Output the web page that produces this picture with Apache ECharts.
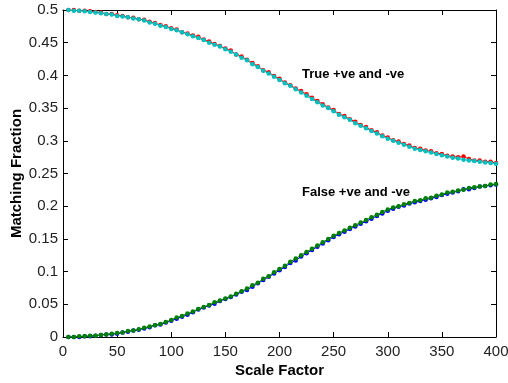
<!DOCTYPE html>
<html><head><meta charset="utf-8">
<script src="https://cdn.jsdelivr.net/npm/echarts@6/dist/echarts.min.js"></script>
<style>html,body{margin:0;padding:0;background:#fff}#c{width:508px;height:383px}</style>
</head><body><div id="c"></div>
<script>
const xValues = [];
for (let i = 1; i <= 80; i++) xValues.push(i * 5);
const trueRed = [0.500,0.500,0.499,0.499,0.498,0.497,0.496,0.494,0.494,0.492,
0.491,0.489,0.488,0.486,0.485,0.482,0.480,0.477,0.475,0.472,
0.470,0.466,0.464,0.461,0.459,0.455,0.452,0.448,0.445,0.441,
0.438,0.432,0.429,0.424,0.419,0.414,0.408,0.405,0.399,0.395,
0.389,0.385,0.380,0.376,0.371,0.366,0.361,0.356,0.351,0.347,
0.341,0.338,0.333,0.329,0.324,0.321,0.316,0.313,0.308,0.305,
0.301,0.299,0.295,0.293,0.289,0.288,0.285,0.284,0.281,0.280,
0.277,0.276,0.275,0.276,0.272,0.270,0.270,0.268,0.268,0.266];
const trueCyan = [0.500,0.499,0.499,0.498,0.497,0.496,0.495,0.494,0.493,0.491,
0.490,0.489,0.487,0.486,0.484,0.481,0.479,0.476,0.474,0.471,
0.469,0.466,0.463,0.460,0.457,0.454,0.450,0.447,0.444,0.440,
0.436,0.432,0.427,0.423,0.417,0.413,0.407,0.403,0.398,0.393,
0.388,0.384,0.379,0.374,0.369,0.364,0.359,0.354,0.350,0.345,
0.340,0.336,0.332,0.327,0.323,0.319,0.315,0.311,0.307,0.303,
0.300,0.297,0.294,0.291,0.288,0.286,0.284,0.282,0.280,0.278,
0.276,0.274,0.273,0.271,0.270,0.269,0.268,0.267,0.266,0.265];
const falseBlue = [0.000,0.000,0.000,0.001,0.001,0.002,0.003,0.004,0.004,0.005,
0.007,0.008,0.010,0.011,0.013,0.015,0.018,0.019,0.022,0.025,
0.028,0.031,0.034,0.038,0.042,0.045,0.048,0.051,0.055,0.058,
0.061,0.065,0.069,0.072,0.077,0.082,0.087,0.092,0.097,0.102,
0.107,0.113,0.117,0.123,0.128,0.133,0.138,0.143,0.148,0.153,
0.157,0.161,0.165,0.169,0.173,0.177,0.181,0.185,0.189,0.193,
0.196,0.199,0.201,0.204,0.206,0.208,0.210,0.212,0.214,0.217,
0.219,0.221,0.223,0.226,0.226,0.228,0.230,0.231,0.232,0.233];
const falseGreen = [0.000,0.000,0.001,0.001,0.002,0.002,0.003,0.004,0.005,0.006,
0.007,0.009,0.010,0.012,0.014,0.016,0.018,0.020,0.023,0.026,
0.030,0.032,0.036,0.039,0.043,0.046,0.049,0.053,0.056,0.059,
0.062,0.066,0.070,0.074,0.079,0.083,0.089,0.093,0.099,0.104,
0.109,0.115,0.120,0.125,0.130,0.135,0.140,0.145,0.150,0.155,
0.159,0.163,0.167,0.171,0.175,0.179,0.183,0.187,0.191,0.195,
0.198,0.200,0.203,0.205,0.208,0.209,0.212,0.213,0.216,0.218,
0.221,0.222,0.224,0.225,0.228,0.229,0.230,0.231,0.233,0.234];
const labelTrue = 'True +ve and -ve';
const labelFalse = 'False +ve and -ve';
const xTitle = 'Scale Factor';
const yTitle = 'Matching Fraction';

const pair = (ys) => ys.map((y, i) => [xValues[i], y]);
const font = 'Liberation Sans, Arial, sans-serif';
function mkSeries(data, color, z) {
  return {type: 'line', data: pair(data), symbol: 'circle', symbolSize: 4.5,
    showSymbol: true, z: z, animation: false,
    lineStyle: {color: color, width: 1}, itemStyle: {color: color}};
}
function axisCommon() {
  return {
    axisLine: {show: true, onZero: false, lineStyle: {color: '#000', width: 1}},
    axisTick: {show: true, inside: true, length: 5, lineStyle: {color: '#000'}},
    splitLine: {show: false}
  };
}
const chart = echarts.init(document.getElementById('c'));
chart.setOption({
  animation: false,
  grid: {left: 63, right: 12, top: 10, bottom: 46, containLabel: false, outerBoundsMode: 'none'},
  xAxis: [
    Object.assign({type: 'value', min: 0, max: 400, interval: 50, position: 'bottom',
      name: xTitle, nameLocation: 'middle', nameGap: 26, nameMoveOverlap: false,
      nameTextStyle: {fontFamily: font, fontSize: 15, fontWeight: 'bold', color: '#000'},
      axisLabel: {fontFamily: font, fontSize: 15, color: '#222', margin: 7}}, axisCommon()),
    Object.assign({type: 'value', min: 0, max: 400, interval: 50, position: 'top',
      axisLabel: {show: false}}, axisCommon())
  ],
  yAxis: [
    Object.assign({type: 'value', min: 0, max: 0.5, interval: 0.05, position: 'left',
      name: yTitle, nameLocation: 'middle', nameGap: 39, nameMoveOverlap: false,
      nameTextStyle: {fontFamily: font, fontSize: 15, fontWeight: 'bold', color: '#000'},
      axisLabel: {fontFamily: font, fontSize: 15, color: '#222', margin: 5}}, axisCommon()),
    Object.assign({type: 'value', min: 0, max: 0.5, interval: 0.05, position: 'right',
      axisLabel: {show: false}}, axisCommon())
  ],
  series: [
    mkSeries(trueRed, '#ff0000', 2),
    mkSeries(trueCyan, '#00bfbf', 3),
    mkSeries(falseBlue, '#0000ff', 2),
    mkSeries(falseGreen, '#008000', 3)
  ],
  graphic: [
    {type: 'text', left: 302, top: 68, style: {text: labelTrue, font: 'bold 13px ' + font, fill: '#000'}},
    {type: 'text', left: 302, top: 186, style: {text: labelFalse, font: 'bold 13px ' + font, fill: '#000'}}
  ]
});
</script></body></html>
